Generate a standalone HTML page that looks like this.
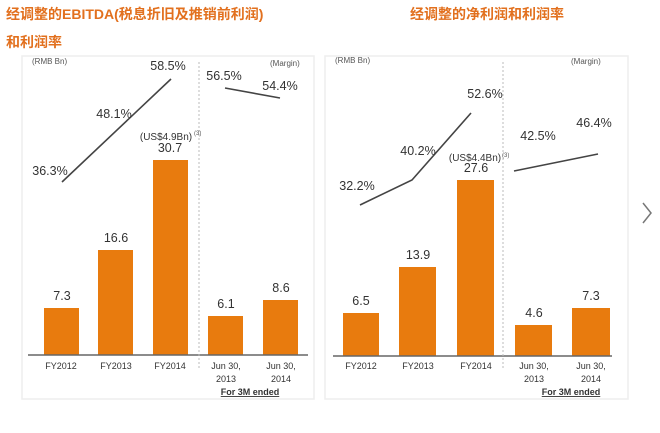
<!DOCTYPE html>
<html><head><meta charset="utf-8"><style>
body{margin:0;width:660px;height:428px;background:#fff;overflow:hidden;font-family:"Liberation Sans","Noto Sans CJK SC",sans-serif}
svg text{font-family:"Liberation Sans","Noto Sans CJK SC",sans-serif}
</style></head><body>
<svg width="660" height="428" viewBox="0 0 660 428">
<g font-weight="bold" fill="#e2701e" font-size="14">
<text x="6" y="19">经调整的EBITDA(税息折旧及推销前利润)</text>
<text x="6" y="47">和利润率</text>
<text x="410" y="19">经调整的净利润和利润率</text>
</g>
<rect x="22" y="56" width="292" height="343" fill="none" stroke="#eee" stroke-width="1.5"/>
<rect x="325" y="56" width="303" height="343" fill="none" stroke="#eee" stroke-width="1.5"/>
<g fill="#555" font-size="8"><text x="32" y="64">(RMB Bn)</text><text x="270" y="66">(Margin)</text>
<text x="335" y="63">(RMB Bn)</text><text x="571" y="64">(Margin)</text></g>
<g fill="#e87b0e">
<rect x="44" y="308" width="35" height="47"/><rect x="98" y="250" width="35" height="105"/><rect x="153" y="160" width="35" height="195"/><rect x="208" y="316" width="35" height="39"/><rect x="263" y="300" width="35" height="55"/>
<rect x="343" y="313" width="36" height="43"/><rect x="399" y="267" width="37" height="89"/><rect x="457" y="180" width="37" height="176"/><rect x="515" y="325" width="37" height="31"/><rect x="572" y="308" width="38" height="48"/>
</g>
<g stroke="#666" stroke-width="1.5"><line x1="28" y1="355" x2="308" y2="355"/><line x1="333" y1="356" x2="612" y2="356"/></g>
<g stroke="#bbb" stroke-dasharray="2,2"><line x1="199" y1="62" x2="199" y2="370"/><line x1="503" y1="62" x2="503" y2="370"/></g>
<g stroke="#444" stroke-width="1.6" fill="none">
<polyline points="62,182 171,79"/><line x1="225" y1="88" x2="280" y2="98"/>
<polyline points="360,205 412,180 471,113"/><line x1="514" y1="171" x2="598" y2="154"/>
</g>
<g fill="#333" font-size="12.5" text-anchor="middle">
<text x="62" y="300">7.3</text><text x="116" y="242">16.6</text><text x="170" y="152">30.7</text><text x="226" y="308">6.1</text><text x="281" y="292">8.6</text>
<text x="361" y="305">6.5</text><text x="418" y="259">13.9</text><text x="476" y="172">27.6</text><text x="534" y="317">4.6</text><text x="591" y="300">7.3</text>
<text x="50" y="175">36.3%</text><text x="114" y="118">48.1%</text><text x="168" y="70">58.5%</text><text x="224" y="80">56.5%</text><text x="280" y="90">54.4%</text>
<text x="357" y="190">32.2%</text><text x="418" y="155">40.2%</text><text x="485" y="98">52.6%</text><text x="538" y="140">42.5%</text><text x="594" y="127">46.4%</text>
<text x="166" y="140" font-size="10">(US$4.9Bn)</text><text x="475" y="161" font-size="10">(US$4.4Bn)</text>
</g>
<g fill="#555" font-size="6"><text x="194" y="135">(3)</text><text x="502" y="157">(3)</text></g>
<g fill="#333" font-size="9" text-anchor="middle">
<text x="61" y="369">FY2012</text><text x="116" y="369">FY2013</text><text x="170" y="369">FY2014</text><text x="226" y="369">Jun 30,</text><text x="226" y="382">2013</text><text x="281" y="369">Jun 30,</text><text x="281" y="382">2014</text>
<text x="361" y="369">FY2012</text><text x="418" y="369">FY2013</text><text x="476" y="369">FY2014</text><text x="534" y="369">Jun 30,</text><text x="534" y="382">2013</text><text x="591" y="369">Jun 30,</text><text x="591" y="382">2014</text>
<text x="250" y="395" font-weight="bold" text-decoration="underline">For 3M ended</text><text x="571" y="395" font-weight="bold" text-decoration="underline">For 3M ended</text>
</g>
<polyline points="643,203 651,213 643,223" fill="none" stroke="#777" stroke-width="1.5"/>
</svg>
</body></html>
